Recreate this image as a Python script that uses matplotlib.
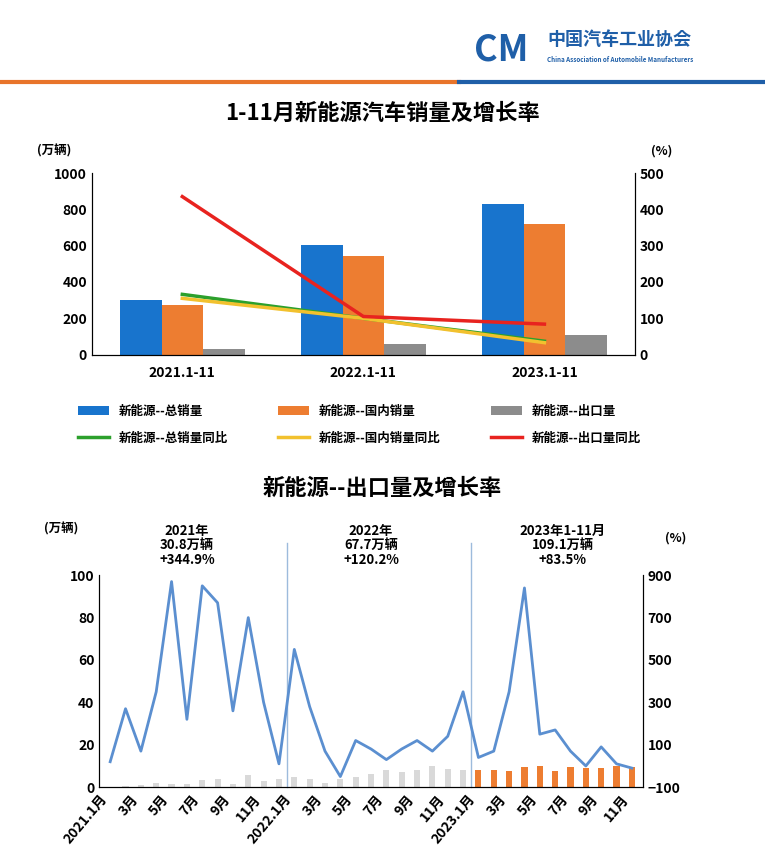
import numpy as np
import matplotlib.pyplot as plt

plt.rcParams['font.family'] = ['Noto Sans CJK JP', 'Noto Sans CJK SC', 'DejaVu Sans']
plt.rcParams['font.weight'] = 'bold'

# top chart
years = ['2021.1-11', '2022.1-11', '2023.1-11']
total = [302, 606, 830]
domestic = [272, 545, 721]
export = [31, 61, 109]
total_yoy = [166, 100, 37]
dom_yoy = [155, 100, 33]
exp_yoy = [435, 105, 84]

# bottom chart, monthly
months = ['2021.1月', '', '3月', '', '5月', '', '7月', '', '9月', '', '11月', '',
          '2022.1月', '', '3月', '', '5月', '', '7月', '', '9月', '', '11月', '',
          '2023.1月', '', '3月', '', '5月', '', '7月', '', '9月', '', '11月']
exports_m = [0.3, 0.5, 0.8, 2.0, 1.5, 1.5, 3.5, 4.0, 1.5, 5.5, 3.0, 4.0,
             5.0, 4.0, 2.0, 4.0, 5.0, 6.0, 8.0, 7.0, 8.0, 10.0, 8.5, 8.0,
             8.0, 8.0, 7.5, 9.5, 10.0, 7.5, 9.5, 9.0, 9.0, 10.0, 9.5]
growth_m = [20, 270, 70, 350, 870, 220, 850, 770, 260, 700, 300, 10,
            550, 280, 70, -50, 120, 80, 30, 80, 120, 70, 140, 350,
            40, 70, 350, 840, 150, 170, 70, 0, 90, 10, -10]
year_notes = ['2021年\n30.8万辆\n+344.9%', '2022年\n67.7万辆\n+120.2%', '2023年1-11月\n109.1万辆\n+83.5%']

fig = plt.figure(figsize=(7.65, 8.65), dpi=100)

# header
fig.text(0.715, 0.948, '中国汽车工业协会', fontsize=13, color='#1f5fa8', ha='left')
fig.text(0.715, 0.928, 'China Association of Automobile Manufacturers', fontsize=4.5, color='#1f5fa8', ha='left')
fig.text(0.62, 0.93, 'CM', fontsize=26, color='#1f5fa8', style='italic', ha='left')
fig.add_artist(plt.Line2D([0, 0.6], [0.905, 0.905], color='#e8742a', lw=3))
fig.add_artist(plt.Line2D([0.6, 1], [0.905, 0.905], color='#1f5fa8', lw=3))

fig.text(0.5, 0.862, '1-11月新能源汽车销量及增长率', fontsize=16, ha='center')
ax = fig.add_axes([0.12, 0.59, 0.71, 0.21])
x = np.arange(3)
w = 0.23
ax.bar(x - w, total, w, color='#1874cd', label='新能源--总销量')
ax.bar(x, domestic, w, color='#ed7d31', label='新能源--国内销量')
ax.bar(x + w, export, w, color='#8c8c8c', label='新能源--出口量')
ax.set_ylim(0, 1000)
ax.set_xlim(-0.5, 2.5)
ax.set_yticks(range(0, 1001, 200))
ax.set_xticks(x)
ax.set_xticklabels(years, fontsize=10)
ax.tick_params(length=0, labelsize=10)
ax.tick_params(axis='x', pad=8)
ax.spines['top'].set_visible(False)
ax2 = ax.twinx()
ax2.plot(x, total_yoy, color='#2ca02c', lw=2.5, label='新能源--总销量同比')
ax2.plot(x, dom_yoy, color='#f2c12e', lw=2.5, label='新能源--国内销量同比')
ax2.plot(x, exp_yoy, color='#e8231f', lw=2.5, label='新能源--出口量同比')
ax2.set_ylim(0, 500)
ax2.set_yticks(range(0, 501, 100))
ax2.tick_params(length=0, labelsize=10)
ax2.spines['top'].set_visible(False)
ax.text(-0.07, 1.1, '(万辆)', transform=ax.transAxes, fontsize=9, ha='center')
ax.text(1.05, 1.1, '(%)', transform=ax.transAxes, fontsize=9, ha='center')
h1, l1 = ax.get_legend_handles_labels()
h2, l2 = ax2.get_legend_handles_labels()
hs = [h1[0], h2[0], h1[1], h2[1], h1[2], h2[2]]
ls = [l1[0], l2[0], l1[1], l2[1], l1[2], l2[2]]
fig.legend(hs, ls, loc='upper center', bbox_to_anchor=(0.47, 0.545), ncol=3,
           frameon=False, fontsize=9, columnspacing=4, handlelength=2.5, labelspacing=1.1)

# bottom chart
fig.text(0.5, 0.428, '新能源--出口量及增长率', fontsize=16, ha='center')
bx = fig.add_axes([0.13, 0.09, 0.71, 0.245])
m = np.arange(len(exports_m))
cols = ['#d9d9d9'] * 24 + ['#ed7d31'] * 11
bx.bar(m, exports_m, 0.4, color=cols)
bx.set_ylim(0, 100)
bx.set_xlim(-0.7, len(m) - 0.3)
bx.set_yticks(range(0, 101, 20))
bx.set_xticks(m)
bx.set_xticklabels(months, rotation=50, ha='right', fontsize=10)
bx.tick_params(length=0, labelsize=10)
bx.spines['top'].set_visible(False)
for b in [11.5, 23.5]:
    bx.axvline(b, color='#9dbbdc', lw=1, ymax=1.15, clip_on=False)
bx2 = bx.twinx()
bx2.plot(m, growth_m, color='#5b8fd0', lw=2)
bx2.set_ylim(-100, 900)
bx2.set_yticks(range(-100, 901, 200))
bx2.tick_params(length=0, labelsize=10)
bx2.spines['top'].set_visible(False)
for xc, note in zip([5, 17, 29.5], year_notes):
    bx.text(xc, 104, note, ha='center', va='bottom', fontsize=9.5, linespacing=1.05)
bx.text(-0.07, 1.2, '(万辆)', transform=bx.transAxes, fontsize=9, ha='center')
bx.text(1.06, 1.16, '(%)', transform=bx.transAxes, fontsize=9, ha='center')

fig.savefig('out.png', dpi=100)
